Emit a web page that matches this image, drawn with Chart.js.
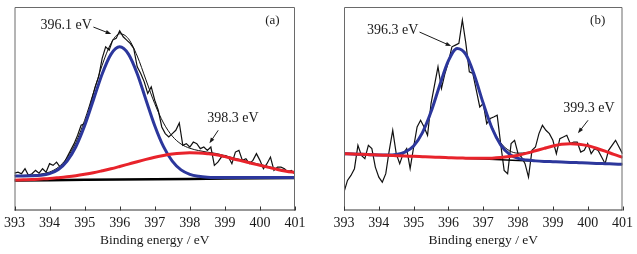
<!DOCTYPE html>
<html lang="en">
<head>
  <meta charset="UTF-8" />
  <title>N 1s XPS spectra</title>
  <script src="https://cdn.jsdelivr.net/npm/chart.js"></script>
  <style>
    body {
      background: #fff;
      margin: 0;
      padding: 0;
    }
    .wrap {
      position: relative;
      width: 637px;
      height: 254px;
    }
    canvas {
      position: absolute;
      top: 0;
    }
    #chartA { left: 0; }
    #chartB { left: 318px; }
  </style>
</head>
<body>
  <div class="wrap">
    <canvas id="chartA" width="318" height="254"></canvas>
    <canvas id="chartB" width="319" height="254"></canvas>
  </div>

  <script>
    // binding energy grids (eV)
    const rawEnergy = [
      393.0, 393.1, 393.2, 393.3, 393.4, 393.5, 393.6, 393.7, 393.8, 393.9,
      394.0, 394.1, 394.2, 394.3, 394.4, 394.5, 394.6, 394.7, 394.8, 394.9,
      395.0, 395.1, 395.2, 395.3, 395.4, 395.5, 395.6, 395.7, 395.8, 395.9,
      396.0, 396.1, 396.2, 396.3, 396.4, 396.5, 396.6, 396.7, 396.8, 396.9,
      397.0, 397.1, 397.2, 397.3, 397.4, 397.5, 397.6, 397.7, 397.8, 397.9,
      398.0, 398.1, 398.2, 398.3, 398.4, 398.5, 398.6, 398.7, 398.8, 398.9,
      399.0, 399.1, 399.2, 399.3, 399.4, 399.5, 399.6, 399.7, 399.8, 399.9,
      400.0, 400.1, 400.2, 400.3, 400.4, 400.5, 400.6, 400.7, 400.8, 400.9,
      401.0
    ];
    const fitEnergy = [
      393.0, 393.25, 393.5, 393.75, 394.0, 394.25, 394.5, 394.75,
      395.0, 395.25, 395.5, 395.75, 396.0, 396.25, 396.5, 396.75,
      397.0, 397.25, 397.5, 397.75, 398.0, 398.25, 398.5, 398.75,
      399.0, 399.25, 399.5, 399.75, 400.0, 400.25, 400.5, 400.75,
      401.0
    ];
    const xTicks = [393, 394, 395, 396, 397, 398, 399, 400, 401];

    // panel (a) intensities, arbitrary units
    const rawA = [
      37.3, 38.3, 36.7, 41.7, 35.0, 36.7, 40.0, 37.3, 41.7, 38.3,
      46.7, 45.0, 48.3, 43.3, 46.7, 53.3, 60.0, 66.7, 75.0, 85.0,
      86.7, 96.7, 110.0, 123.3, 133.3, 151.7, 163.3, 160.0, 170.0, 171.7,
      179.3, 173.3, 170.0, 166.7, 161.7, 143.3, 136.7, 128.3, 116.7, 123.3,
      110.0, 100.0, 83.3, 76.7, 73.3, 76.7, 80.0, 87.3, 65.0, 66.7,
      63.3, 68.3, 66.7, 61.7, 63.3, 60.0, 63.3, 45.0, 48.3, 53.3,
      55.0, 53.3, 46.7, 58.3, 60.0, 50.0, 51.7, 46.7, 50.0, 56.7,
      50.0, 41.7, 46.7, 53.3, 40.0, 43.3, 43.3, 41.7, 38.3, 40.0,
      36.0
    ];
    const envelopeA = [
      34.8, 35.0, 35.3, 36.3, 38.4, 43.2, 52.5, 67.8,
      90.0, 117.3, 145.0, 166.6, 176.3, 171.3, 154.1, 130.2,
      106.5, 87.3, 74.2, 66.3, 62.1, 59.8, 58.2, 56.9,
      54.7, 52.4, 50.3, 48.1, 45.9, 43.8, 41.6, 39.9,
      38.5
    ];
    const peak1A = [
      34.5, 34.5, 34.6, 35.1, 36.8, 40.9, 49.4, 63.6,
      84.5, 110.3, 136.2, 155.8, 163.3, 156.0, 136.5, 110.3,
      84.6, 63.7, 49.3, 40.5, 36.1, 34.1, 33.2, 32.9,
      32.8, 32.9, 32.9, 32.9, 32.9, 33.0, 33.0, 33.0,
      33.0
    ];
    const peak2A = [
      30.3, 30.6, 30.9, 31.4, 31.9, 32.7, 33.6, 34.7,
      36.1, 37.7, 39.6, 41.6, 43.9, 46.3, 48.7, 51.0,
      53.1, 54.9, 56.3, 57.2, 57.5, 57.3, 56.7, 55.7,
      53.7, 51.4, 49.4, 47.2, 45.1, 43.0, 40.9, 39.2,
      37.9
    ];
    const backgroundA = [30.0, 30.3, 30.6, 30.9, 31.2, 31.5, 31.8, 32.1, 32.4];

    // panel (b) intensities, arbitrary units
    const rawB = [
      18.3, 30.0, 35.0, 41.7, 65.0, 55.0, 51.7, 65.0, 61.7, 43.3,
      33.3, 28.3, 36.7, 60.0, 80.0, 56.7, 46.7, 56.7, 61.7, 41.7,
      63.3, 83.3, 90.0, 83.3, 75.0, 106.7, 125.0, 143.3, 121.7, 136.7,
      148.3, 163.3, 165.0, 166.7, 190.0, 166.7, 138.3, 136.7, 120.0, 103.3,
      106.7, 86.7, 91.7, 93.3, 95.0, 66.7, 40.0, 36.7, 66.7, 70.0,
      56.7, 53.3, 46.7, 33.3, 60.0, 63.3, 76.7, 85.0, 80.0, 76.7,
      70.0, 56.7, 71.7, 73.3, 75.0, 66.7, 68.3, 68.3, 58.3, 60.0,
      66.7, 56.7, 61.7, 60.0, 53.3, 46.7, 60.0, 65.0, 70.0, 63.3,
      56.7
    ];
    const envelopeB = [
      56.7, 56.4, 56.0, 55.7, 55.4, 55.3, 55.9, 58.3,
      64.4, 77.4, 98.4, 125.0, 149.4, 161.6, 155.9, 134.7,
      107.5, 83.5, 67.6, 59.7, 57.2, 57.8, 59.7, 62.0,
      64.3, 66.0, 66.6, 66.2, 64.7, 62.1, 59.2, 56.0,
      53.1
    ];
    const peak1B = [
      56.7, 56.4, 56.0, 55.7, 55.4, 55.3, 55.9, 58.3,
      64.4, 77.4, 98.4, 125.0, 149.4, 161.6, 155.7, 134.4,
      106.9, 82.3, 65.5, 56.3, 52.0, 50.3, 49.5, 49.0,
      48.7, 48.4, 48.0, 47.7, 47.4, 47.0, 46.7, 46.4,
      46.1
    ];
    const peak2B = [
      56.7, 56.4, 56.0, 55.7, 55.4, 55.0, 54.7, 54.4,
      54.0, 53.7, 53.4, 53.0, 52.7, 52.4, 52.2, 52.0,
      52.0, 52.2, 52.8, 53.8, 55.2, 57.2, 59.6, 62.0,
      64.3, 66.0, 66.6, 66.2, 64.7, 62.1, 59.2, 56.0,
      53.1
    ];
    const backgroundB = [56.7, 55.4, 54.0, 52.7, 51.4, 50.0, 48.7, 47.4, 46.1];

    const peakLabelsA = ['396.1 eV', '398.3 eV'];
    const peakLabelsB = ['396.3 eV', '399.3 eV'];

    const serif = '"Liberation Serif", "DejaVu Serif", serif';
    const ink = '#1a1a1a';

    function pts(xs, ys) {
      return xs.map((x, i) => ({ x: x, y: ys[i] }));
    }

    // frame, inward ticks, labels and arrows
    const decorPlugin = {
      id: 'decor',
      afterDatasetsDraw(chart, args, opts) {
        const { ctx, chartArea: a, scales: { x, y } } = chart;
        ctx.save();
        ctx.strokeStyle = '#6a6a6a';
        ctx.lineWidth = 1;
        ctx.beginPath();
        ctx.moveTo(a.left + 0.5, a.bottom);
        ctx.lineTo(a.left + 0.5, a.top + 0.5);
        ctx.lineTo(a.right - 0.5, a.top + 0.5);
        ctx.lineTo(a.right - 0.5, a.bottom);
        ctx.stroke();
        ctx.strokeStyle = '#333';
        ctx.beginPath();
        ctx.moveTo(a.left, a.bottom - 0.5);
        ctx.lineTo(a.right, a.bottom - 0.5);
        xTicks.forEach(v => {
          const px = Math.round(x.getPixelForValue(v)) + 0.5;
          ctx.moveTo(px, a.bottom);
          ctx.lineTo(px, a.bottom - 4);
        });
        ctx.stroke();

        ctx.fillStyle = ink;
        ctx.textBaseline = 'middle';
        ctx.textAlign = 'left';
        opts.notes.forEach(n => {
          ctx.font = (n.size || 14) + 'px ' + serif;
          ctx.fillText(n.text, x.getPixelForValue(n.x), y.getPixelForValue(n.y));
        });

        ctx.strokeStyle = ink;
        ctx.lineWidth = 1;
        opts.arrows.forEach(ar => {
          const x0 = x.getPixelForValue(ar.from[0]), y0 = y.getPixelForValue(ar.from[1]);
          const x1 = x.getPixelForValue(ar.to[0]), y1 = y.getPixelForValue(ar.to[1]);
          const ang = Math.atan2(y1 - y0, x1 - x0);
          ctx.beginPath();
          ctx.moveTo(x0, y0);
          ctx.lineTo(x1 - 4 * Math.cos(ang), y1 - 4 * Math.sin(ang));
          ctx.stroke();
          ctx.beginPath();
          ctx.moveTo(x1, y1);
          ctx.lineTo(x1 - 6 * Math.cos(ang - 0.35), y1 - 6 * Math.sin(ang - 0.35));
          ctx.lineTo(x1 - 6 * Math.cos(ang + 0.35), y1 - 6 * Math.sin(ang + 0.35));
          ctx.closePath();
          ctx.fill();
        });
        ctx.restore();
      }
    };

    function makeChart(id, pad, series, decor) {
      return new Chart(document.getElementById(id), {
        type: 'line',
        data: {
          datasets: [
            { data: pts(fitEnergy, series.peak2), borderColor: '#e8232b', borderWidth: 3, cubicInterpolationMode: 'monotone' },
            { data: pts(fitEnergy, series.peak1), borderColor: '#2c379c', borderWidth: 3, cubicInterpolationMode: 'monotone' },
            { data: pts(xTicks, series.background), borderColor: '#000', borderWidth: series.bgWidth, tension: 0 },
            { data: pts(fitEnergy, series.envelope), borderColor: '#111', borderWidth: 1, cubicInterpolationMode: 'monotone' },
            { data: pts(rawEnergy, series.raw), borderColor: '#111', borderWidth: 1.2, tension: 0 }
          ]
        },
        options: {
          responsive: false,
          animation: false,
          layout: { padding: pad },
          elements: { point: { radius: 0 } },
          plugins: {
            legend: { display: false },
            tooltip: { enabled: false },
            decor: decor
          },
          scales: {
            x: {
              type: 'linear',
              min: 393,
              max: 401,
              afterBuildTicks: s => { s.ticks = xTicks.map(v => ({ value: v })); },
              afterFit: s => { s.height = 43.5; },
              ticks: {
                color: ink,
                padding: 4,
                maxRotation: 0,
                autoSkip: false,
                font: { family: serif, size: 14 }
              },
              grid: { display: false, drawTicks: false },
              border: { display: false },
              title: {
                display: true,
                text: 'Binding energy / eV',
                color: ink,
                font: { family: serif, size: 13.5 },
                padding: { top: 0, bottom: 5 }
              }
            },
            y: {
              display: false,
              min: 0,
              max: 203
            }
          }
        },
        plugins: [decorPlugin]
      });
    }

    makeChart('chartA', { left: 14, right: 23, top: 7, bottom: 0 }, {
      raw: rawA, envelope: envelopeA, peak1: peak1A, peak2: peak2A,
      background: backgroundA, bgWidth: 2.5
    }, {
      notes: [
        { text: peakLabelsA[0], x: 393.74, y: 185 },
        { text: peakLabelsA[1], x: 398.50, y: 92 },
        { text: '(a)', x: 400.15, y: 189, size: 13 }
      ],
      arrows: [
        { from: [395.25, 183], to: [395.76, 176] },
        { from: [398.81, 80], to: [398.56, 67] }
      ]
    });

    makeChart('chartB', { left: 26, right: 13, top: 7, bottom: 0 }, {
      raw: rawB, envelope: envelopeB, peak1: peak1B, peak2: peak2B,
      background: backgroundB, bgWidth: 1.5
    }, {
      notes: [
        { text: peakLabelsB[0], x: 393.66, y: 180 },
        { text: peakLabelsB[1], x: 399.30, y: 102 },
        { text: '(b)', x: 400.07, y: 189, size: 13 }
      ],
      arrows: [
        { from: [395.17, 178], to: [396.08, 164] },
        { from: [400.01, 90], to: [399.72, 77] }
      ]
    });
  </script>
</body>
</html>
